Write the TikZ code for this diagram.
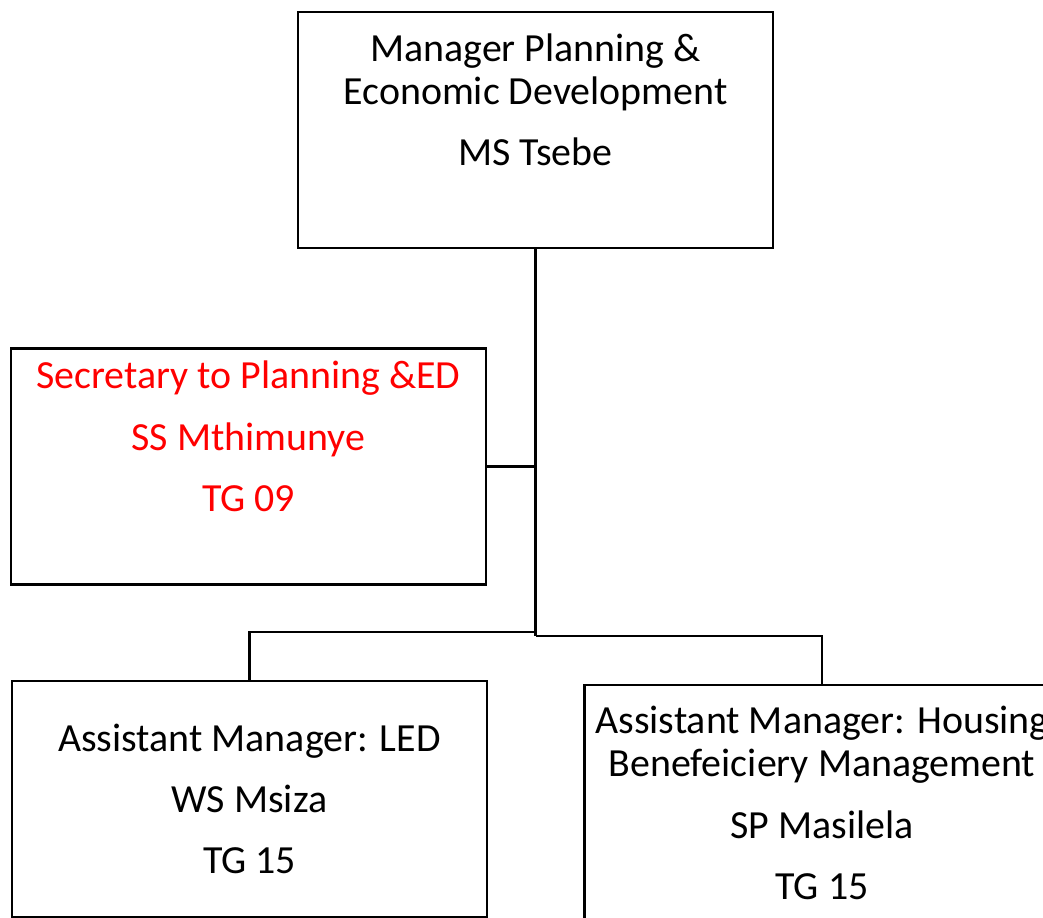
\documentclass[tikz,border=0pt]{standalone}
\usepackage{fontspec}
\setmainfont{Carlito}
\usetikzlibrary{calc}
\definecolor{secred}{RGB}{255,0,0}

\begin{document}
\begin{tikzpicture}[post/.style={draw,line width=1.6pt,minimum width=9.5cm,minimum height=4.72cm,
    inner sep=2pt,align=center,font=\fontsize{22.7}{24.4}\selectfont},
  link/.style={line width=1.6pt}]
  \useasboundingbox (0,0) rectangle (20.86,-18.36);
  \node[post] (top) at (10.71,-2.6)
    {Manager Planning \&\\Economic Development\\[0.37cm]MS Tsebe\\[0.09cm]\strut};
  \node[post,text=secred] (sec) at (4.97,-9.33)
    {Secretary to Planning \&ED\\[0.37cm]SS Mthimunye\\[0.37cm]TG 09\\[0.09cm]\strut};
  \node[post] (led) at (4.99,-15.98)
    {Assistant Manager: LED\\[0.37cm]WS Msiza\\[0.37cm]TG 15};
  \node[post] (hsg) at (16.44,-16.06)
    {Assistant Manager: Housing\\Benefeiciery Management\\[0.37cm]SP Masilela\\[0.37cm]TG 15};
  \coordinate (jl) at (10.71,-12.64);
  \coordinate (jr) at (10.71,-12.72);
  \draw[link] (top.south) -- (jr);
  \draw[link] (sec.east) -- (sec.east -| top.south);
  \draw[link] (jl) -| (led.north);
  \draw[link] (jr) -| (hsg.north);
\end{tikzpicture}
\end{document}
